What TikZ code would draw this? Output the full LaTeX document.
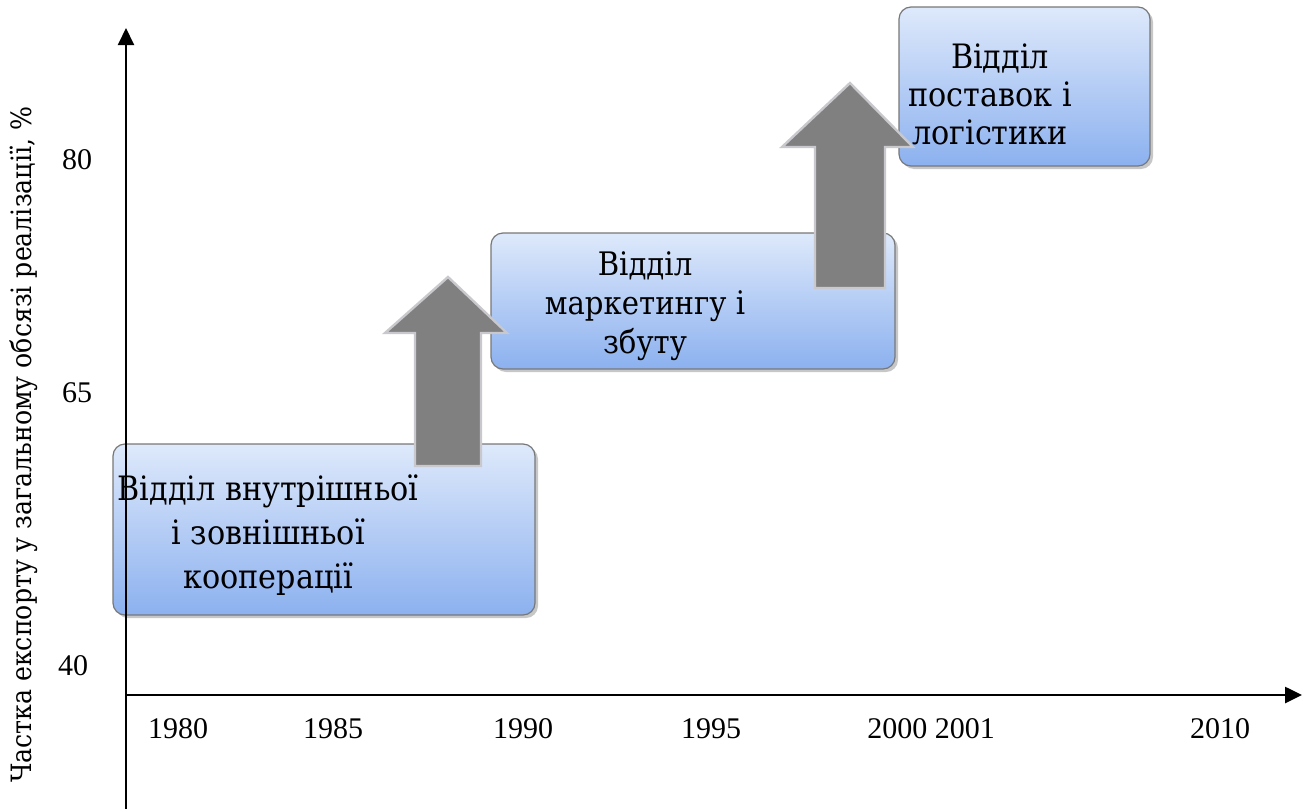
\documentclass[tikz,border=0pt]{standalone}
\usepackage{fontspec}
\setmainfont{Liberation Serif}
\newfontfamily\cyrserif{DejaVu Serif Condensed}
\usetikzlibrary{arrows.meta,shadows}
\definecolor{boxtop}{RGB}{222,233,251}
\definecolor{boxbot}{RGB}{140,177,239}
\definecolor{boxline}{RGB}{120,120,120}
\definecolor{arrfill}{RGB}{128,128,128}
\definecolor{arrglow}{RGB}{200,200,205}
\begin{document}
\begin{tikzpicture}[x=0.5pt,y=-0.5pt,
  stagebox/.style={draw=boxline, line width=0.6pt, rounded corners=6pt,
    top color=boxtop, bottom color=boxbot, inner sep=0pt,
    drop shadow={shadow xshift=1.5pt, shadow yshift=-1.5pt, fill=gray!55, opacity=0.8}},
  stagetext/.style={align=center, inner sep=0pt},
  blockarrow/.style={fill=arrfill, draw=arrglow, line width=1.2pt, line join=miter},
  axisline/.style={line width=1pt, -{Triangle[length=8.5pt,width=8pt]}},
  ticklab/.style={inner sep=0pt, font=\fontsize{15}{18}\selectfont},
]
\useasboundingbox (0,0) rectangle (1302,809);

% boxes
\node[stagebox, minimum width=211pt, minimum height=85.5pt] (b1) at (324,529.5) {};
\node[stagebox, minimum width=202pt, minimum height=68pt] (b2) at (693,301) {};
\node[stagebox, minimum width=125.5pt, minimum height=79.5pt] (b3) at (1024.5,86.5) {};

% box texts
\node[stagetext, font=\cyrserif\fontsize{16.8}{22}\selectfont] (t1) at (268,535) {Відділ внутрішньої\\і зовнішньої\\кооперації};
\node[stagetext, font=\cyrserif\fontsize{16.2}{19.5}\selectfont] (t2) at (645,306) {Відділ\\маркетингу і\\збуту};
\node[stagetext, font=\cyrserif\fontsize{16.8}{19}\selectfont] (t3) at (990,94) {\hspace*{10pt}Відділ\\поставок і\\логістики};

% block arrows
\draw[blockarrow] (415,466) -- (415,333) -- (385,333) -- (448,277) -- (507,333) -- (481,333) -- (481,466) -- cycle;
\draw[blockarrow] (815,288) -- (815,147) -- (782,147) -- (850,83) -- (913,147) -- (885,147) -- (885,288) -- cycle;

% axes
\coordinate (ybot) at (126,809);
\coordinate (ytop) at (126,28);
\coordinate (xleft) at (126,695);
\coordinate (xright) at (1302,695);
\draw[axisline] (ybot) -- (ytop);
\draw[axisline, line width=1.3pt] (xleft) -- (xright);

% tick labels
\node[ticklab] (y1980) at (178,729) {1980};
\node[ticklab] (y1985) at (333,729) {1985};
\node[ticklab] (y1990) at (523,729) {1990};
\node[ticklab] (y1995) at (711,729) {1995};
\node[ticklab] (y2000) at (931,729) {2000 2001};
\node[ticklab] (y2010) at (1220,729) {2010};
\node[ticklab] (v80) at (77,160) {80};
\node[ticklab] (v65) at (77,393) {65};
\node[ticklab] (v40) at (73,666) {40};

% axis title
\node[ticklab, rotate=90, font=\cyrserif\fontsize{14}{18}\selectfont] (ytitle) at (24,445) {Частка експорту у загальному обсязі реалізації, \%};
\end{tikzpicture}
\end{document}
